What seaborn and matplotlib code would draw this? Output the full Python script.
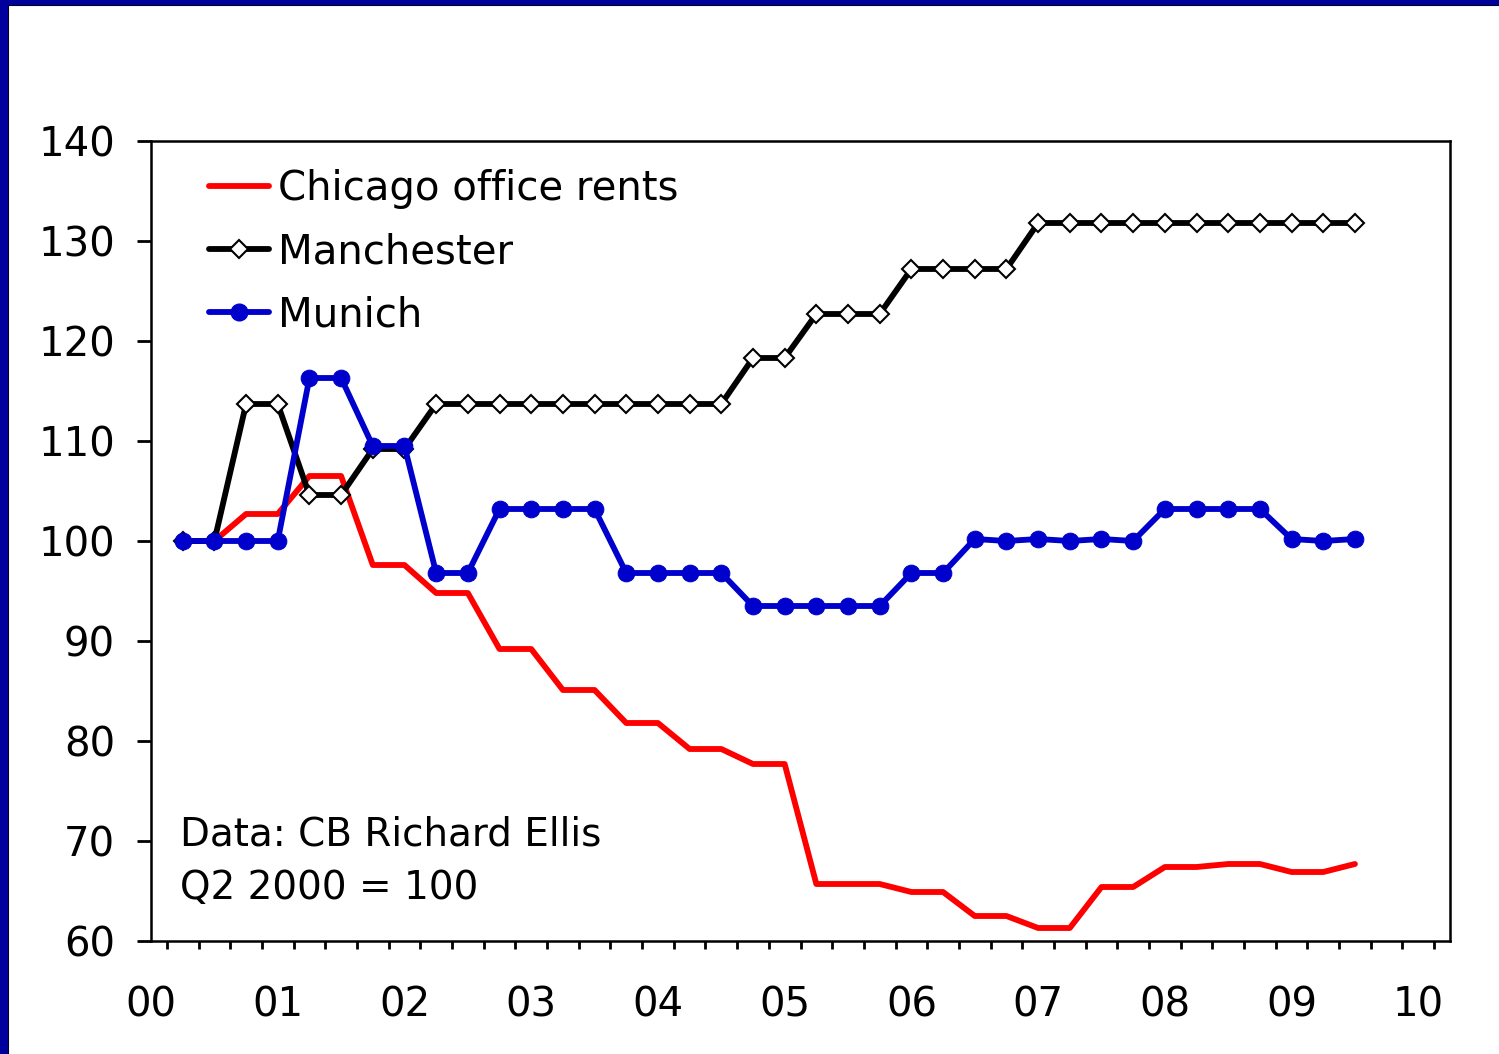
import numpy as np
import pandas as pd
import matplotlib
matplotlib.use("Agg")
import matplotlib.pyplot as plt
import seaborn as sns
from matplotlib.ticker import FixedLocator, FuncFormatter
from matplotlib.lines import Line2D
from matplotlib.patches import Rectangle

# quarterly index, Q2 2000 = 100
quarters = pd.period_range("2000Q2", "2009Q3", freq="Q")
chicago = [100, 100, 102.7, 102.7, 106.5, 106.5, 97.6, 97.6, 94.8, 94.8,
           89.2, 89.2, 85.1, 85.1, 81.8, 81.8, 79.2, 79.2, 77.7, 77.7,
           65.7, 65.7, 65.7, 64.9, 64.9, 62.5, 62.5, 61.3, 61.3, 65.4,
           65.4, 67.4, 67.4, 67.7, 67.7, 66.9, 66.9, 67.7]
manchester = [100, 100, 113.7, 113.7, 104.6, 104.6, 109.2, 109.2, 113.7, 113.7,
              113.7, 113.7, 113.7, 113.7, 113.7, 113.7, 113.7, 113.7, 118.3, 118.3,
              122.7, 122.7, 122.7, 127.2, 127.2, 127.2, 127.2, 131.8, 131.8, 131.8,
              131.8, 131.8, 131.8, 131.8, 131.8, 131.8, 131.8, 131.8]
munich = [100, 100, 100, 100, 116.3, 116.3, 109.5, 109.5, 96.8, 96.8,
          103.2, 103.2, 103.2, 103.2, 96.8, 96.8, 96.8, 96.8, 93.5, 93.5,
          93.5, 93.5, 93.5, 96.8, 96.8, 100.2, 100.0, 100.2, 100.0, 100.2,
          100.0, 103.2, 103.2, 103.2, 103.2, 100.2, 100.0, 100.2]

year_labels = ["00", "01", "02", "03", "04", "05", "06", "07", "08", "09", "10"]

# position quarters on a fractional-year axis (quarter start)
xpos = np.array([q.year + (q.quarter - 1) / 4 for q in quarters])
df = pd.DataFrame({"x": xpos, "Chicago": chicago, "Manchester": manchester, "Munich": munich})

sns.set_style("white")
plt.rcParams["font.family"] = ["DejaVu Sans"]
plt.rcParams["text.color"] = "black"
plt.rcParams["xtick.color"] = "black"
plt.rcParams["ytick.color"] = "black"

fig = plt.figure(figsize=(14.99, 10.54), dpi=100)
W, H = 1499, 1054
ax = fig.add_axes([151 / W, (H - 941) / H, (1450 - 151) / W, (941 - 141) / H])

red = "#ff0000"
blue = "#0000cc"
lw = 4.2

sns.lineplot(data=df, x="x", y="Chicago", ax=ax, color=red, linewidth=lw)
sns.lineplot(data=df, x="x", y="Manchester", ax=ax, color="black", linewidth=lw,
             marker="D", markersize=9, markerfacecolor="white",
             markeredgecolor="black", markeredgewidth=1.5)
sns.lineplot(data=df, x="x", y="Munich", ax=ax, color=blue, linewidth=lw,
             marker="o", markersize=12, markerfacecolor=blue, markeredgecolor=blue)

ax.set_xlim(2000, 2010.25)
ax.set_ylim(60, 140)
ax.set_yticks(np.arange(60, 141, 10))
ax.set_xlabel("")
ax.set_ylabel("")

major = np.arange(2000, 2010.26, 0.25)
minor = np.arange(2000.125, 2010.25, 0.25)
ax.xaxis.set_major_locator(FixedLocator(major))
ax.xaxis.set_minor_locator(FixedLocator(minor))


def fmt(v, pos):
    if abs(v - round(v)) < 1e-6:
        return year_labels[int(round(v)) - 2000]
    return ""


ax.xaxis.set_major_formatter(FuncFormatter(fmt))
ax.tick_params(axis="x", which="major", direction="out", length=10, width=2,
               labelsize=29, pad=22, colors="black")
ax.tick_params(axis="x", which="minor", direction="out", length=6, width=2,
               bottom=True)
ax.tick_params(axis="y", direction="out", length=10, width=2, labelsize=29,
               pad=16, left=True, colors="black")
for s in ax.spines.values():
    s.set_color("black")
    s.set_linewidth(1.8)

handles = [
    Line2D([], [], color=red, linewidth=lw),
    Line2D([], [], color="black", linewidth=lw, marker="D", markersize=9,
           markerfacecolor="white", markeredgecolor="black", markeredgewidth=1.5),
    Line2D([], [], color=blue, linewidth=lw, marker="o", markersize=12,
           markerfacecolor=blue, markeredgecolor=blue),
]
ax.legend(handles, ["Chicago office rents", "Manchester", "Munich"],
          loc="upper left", bbox_to_anchor=(0.026, 0.995), frameon=False,
          fontsize=29, handlelength=1.5, handletextpad=0.22, labelspacing=0.57,
          borderaxespad=0.2)

fig.text(180 / W, (H - 835) / H, "Data: CB Richard Ellis", fontsize=28,
         va="center", ha="left", color="black")
fig.text(180 / W, (H - 888) / H, "Q2 2000 = 100", fontsize=28,
         va="center", ha="left", color="black")

# slide frame on left and top edges
frame = "#00009c"
fig.patches.append(Rectangle((0, 0), 7 / W, 1, transform=fig.transFigure,
                             color=frame, zorder=10))
fig.patches.append(Rectangle((0, 1 - 4 / H), 1, 4 / H, transform=fig.transFigure,
                             color=frame, zorder=10))
fig.add_artist(Line2D([8 / W, 8 / W], [0, 1 - 4 / H], transform=fig.transFigure,
                      color="black", linewidth=1.5))
fig.add_artist(Line2D([8 / W, 1], [1 - 5 / H, 1 - 5 / H], transform=fig.transFigure,
                      color="black", linewidth=1.5))

fig.savefig("out.png", dpi=100)
